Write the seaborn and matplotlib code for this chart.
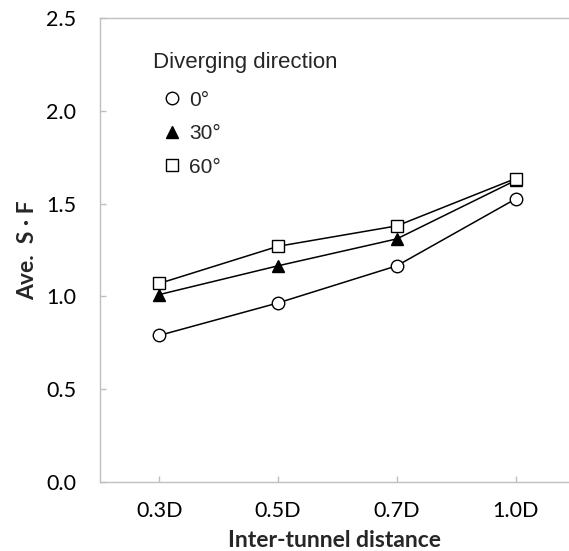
import matplotlib
matplotlib.use("Agg")
import matplotlib.pyplot as plt
import seaborn as sns
import pandas as pd
from matplotlib.lines import Line2D

distances = ["0.3D", "0.5D", "0.7D", "1.0D"]
sf_0deg = [0.79, 0.965, 1.165, 1.525]
sf_30deg = [1.01, 1.165, 1.31, 1.625]
sf_60deg = [1.07, 1.27, 1.38, 1.635]
direction_labels = ["0°", "30°", "60°"]

sns.set_theme(style = "white")
plt.rcParams["font.family"] = ["Lato", "DejaVu Sans"]

fig = plt.figure(figsize = (5.69, 5.51), dpi = 100)
ax = fig.add_axes([0.1757, 0.1252, 0.8243, 0.8421])

styles = [
    {"marker": "o", "markerfacecolor": "white", "markersize": 9},
    {"marker": "^", "markerfacecolor": "black", "markersize": 9},
    {"marker": "s", "markerfacecolor": "white", "markersize": 8.5},
]
series = [sf_0deg, sf_30deg, sf_60deg]
for values, label, style in zip(series, direction_labels, styles):
    frame = pd.DataFrame({"distance": distances, "sf": values})
    sns.lineplot(
        data = frame, x = "distance", y = "sf", ax = ax, color = "black",
        linewidth = 1.1, markeredgecolor = "black", markeredgewidth = 1.0,
        sort = False, legend = False, **style
    )

ax.set_xlim(-0.5, 3.45)
ax.set_ylim(0, 2.5)
ax.set_yticks([0, 0.5, 1.0, 1.5, 2.0, 2.5])
ax.set_yticklabels(["0.0", "0.5", "1.0", "1.5", "2.0", "2.5"])
ax.set_xticks(range(len(distances)))
ax.set_xticklabels(distances)

for side in ["left", "bottom", "top"]:
    ax.spines[side].set_color("#bfbfbf")
    ax.spines[side].set_linewidth(1.0)
ax.spines["right"].set_visible(False)
ax.tick_params(axis = "both", direction = "in", length = 4, width = 1, color = "#bfbfbf",
               labelsize = 15.5, labelcolor = "black", left = True, bottom = True)
ax.tick_params(axis = "x", pad = 14)
ax.tick_params(axis = "y", pad = 17)

ax.set_xlabel("Inter-tunnel distance", fontsize = 16.5, fontweight = "bold", labelpad = 6)
ax.set_ylabel("Ave.  S · F", fontsize = 16.5, fontweight = "bold", labelpad = 6)

# legend title drawn separately to get the wider gap above the entries
ax.text(0.113, 0.905, "Diverging direction", transform = ax.transAxes, va = "center",
        ha = "left", fontsize = 16, family = ["Liberation Sans"])
handles = [
    Line2D([], [], linestyle = "", color = "black", markeredgecolor = "black", **style)
    for style in styles
]
ax.legend(
    handles, direction_labels, loc = "upper left",
    bbox_to_anchor = (0.086, 0.884), frameon = False,
    handletextpad = 0.25, labelspacing = 0.7, handlelength = 1.2,
    prop = {"family": ["Liberation Sans"], "size": 15}
)

fig.savefig("out.png", dpi = 100)
